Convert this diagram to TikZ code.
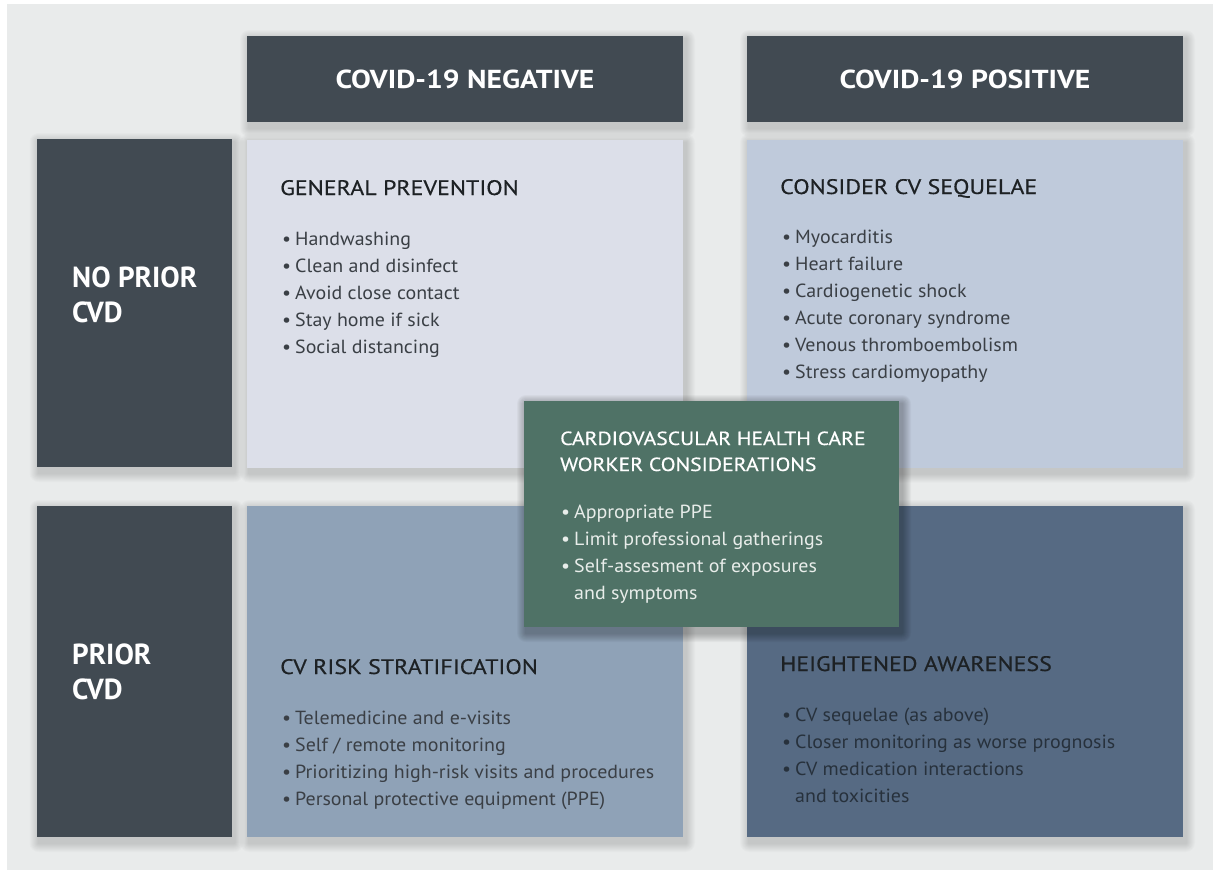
\documentclass[tikz,border=0pt]{standalone}
\usepackage{fontspec}
\setmainfont{PT Sans}[FakeStretch=1.05]
\newfontfamily\titlefont{PT Sans}[FakeStretch=1.14, FakeBold=0.5]
\newfontfamily\hdrfont{PT Sans}[FakeStretch=1.14]
\newfontfamily\rowfont{PT Sans}
\definecolor{bg}{HTML}{E9EBEB}
\definecolor{darkhdr}{HTML}{414A52}
\definecolor{qtl}{HTML}{DCDFE9}
\definecolor{qtr}{HTML}{BFCADB}
\definecolor{qbl}{HTML}{8FA2B7}
\definecolor{qbr}{HTML}{566A83}
\definecolor{qc}{HTML}{4F7266}
\definecolor{titlec}{HTML}{1D2124}
\definecolor{itemc}{HTML}{3A3F45}
\definecolor{itembr}{HTML}{27313C}
\definecolor{itemc2}{HTML}{E8EDEA}
\newcommand{\bul}{\makebox[13pt][l]{•}}
\newcommand{\softshadow}[5]{%
  \foreach \k in {1,...,9} {
    \fill[black, opacity=#5, rounded corners=\k pt]
      ({#1+2-\k},{#2+3-\k}) rectangle ({#3+3+\k},{#4+6+\k});
  }}
\tikzset{
  box/.style={anchor=north west, inner sep=0, outer sep=0, draw=none},
  hdrtext/.style={anchor=base, inner sep=0, text=white, font=\hdrfont\bfseries\fontsize{26}{30}\selectfont},
  rowtext/.style={anchor=base west, inner sep=0, text=white, font=\rowfont\bfseries\fontsize{29}{33}\selectfont},
  qtitle/.style={anchor=base west, inner sep=0, text=titlec, font=\titlefont\fontsize{21}{25}\selectfont},
  item/.style={anchor=base west, inner sep=0, text=itemc, font=\fontsize{19}{23}\selectfont},
}
\begin{document}
\begin{tikzpicture}[x=1pt,y=-1pt]
\useasboundingbox (0,0) rectangle (1213,870);
\fill[bg] (0,0) rectangle (1213,870);
\fill[white] (0,0) rectangle (7,870);
\fill[white] (0,0) rectangle (1213,4);

% shadows
\softshadow{247}{36}{683}{122}{0.016}
\softshadow{747}{36}{1183}{122}{0.016}
\softshadow{36.5}{139}{231.5}{467}{0.016}
\softshadow{36.5}{506}{231.5}{837}{0.016}
\softshadow{247}{139.5}{683}{467.5}{0.016}
\softshadow{747}{139.5}{1183}{467.5}{0.016}
\softshadow{247}{506}{683}{837}{0.016}
\softshadow{747}{506}{1183}{837}{0.016}

% column headers
\node[box, fill=darkhdr, minimum width=436, minimum height=86] (hneg) at (247,36) {};
\node[box, fill=darkhdr, minimum width=436, minimum height=86] (hpos) at (747,36) {};
\node[hdrtext] (hnegt) at (465,88) {COVID-19 NEGATIVE};
\node[hdrtext] (hpost) at (965,88) {COVID-19 POSITIVE};

% row headers
\node[box, fill=darkhdr, minimum width=195, minimum height=328] (rno) at (36.5,139) {};
\node[box, fill=darkhdr, minimum width=195, minimum height=331] (rpr) at (36.5,506) {};
\node[rowtext] (rno1) at (72,287) {NO PRIOR};
\node[rowtext] (rno2) at (72,322) {CVD};
\node[rowtext] (rpr1) at (72,664) {PRIOR};
\node[rowtext] (rpr2) at (72,699) {CVD};

% quadrants
\node[box, fill=qtl, minimum width=436, minimum height=328] (qtl) at (247,139.5) {};
\node[box, fill=qtr, minimum width=436, minimum height=328] (qtr) at (747,139.5) {};
\node[box, fill=qbl, minimum width=436, minimum height=331] (qbl) at (247,506) {};
\node[box, fill=qbr, minimum width=436, minimum height=331] (qbr) at (747,506) {};

% top-left
\node[qtitle] (tlt) at (280,195) {GENERAL PREVENTION};
\foreach \t [count=\i] in {Handwashing, Clean and disinfect, Avoid close contact, Stay home if sick, Social distancing}
  \node[item] (tl\i) at (282,{245+27*(\i-1)}) {\bul\t};

% top-right
\node[qtitle] (trt) at (780,194) {CONSIDER CV SEQUELAE};
\foreach \t [count=\i] in {Myocarditis, Heart failure, Cardiogenetic shock, Acute coronary syndrome, Venous thromboembolism, Stress cardiomyopathy}
  \node[item] (tr\i) at (782,{243+27*(\i-1)}) {\bul\t};

% bottom-left
\node[qtitle] (blt) at (280,674) {CV RISK STRATIFICATION};
\foreach \t [count=\i] in {Telemedicine and e-visits, Self / remote monitoring, Prioritizing high-risk visits and procedures, Personal protective equipment (PPE)}
  \node[item] (bl\i) at (282,{724+27*(\i-1)}) {\bul\t};

% bottom-right
\node[qtitle] (brt) at (780,671) {HEIGHTENED AWARENESS};
\foreach \t [count=\i] in {CV sequelae (as above), Closer monitoring as worse prognosis, CV medication interactions}
  \node[item, text=itembr] (br\i) at (782,{721+27*(\i-1)}) {\bul\t};
\node[item, text=itembr] (br4) at (795,802) {and toxicities};

% center
\softshadow{524}{401}{899}{627}{0.03}
\node[box, fill=qc, minimum width=375, minimum height=226] (cen) at (524,401) {};
\node[qtitle, text=white, font=\titlefont\fontsize{19}{23}\selectfont] (cent1) at (560,445) {CARDIOVASCULAR HEALTH CARE};
\node[qtitle, text=white, font=\titlefont\fontsize{19}{23}\selectfont] (cent2) at (560,471) {WORKER CONSIDERATIONS};
\foreach \t [count=\i] in {Appropriate PPE, Limit professional gatherings, Self-assesment of exposures}
  \node[item, text=itemc2] (c\i) at (561,{518+27*(\i-1)}) {\bul\t};
\node[item, text=itemc2] (c4) at (574,599) {and symptoms};
\end{tikzpicture}
\end{document}
